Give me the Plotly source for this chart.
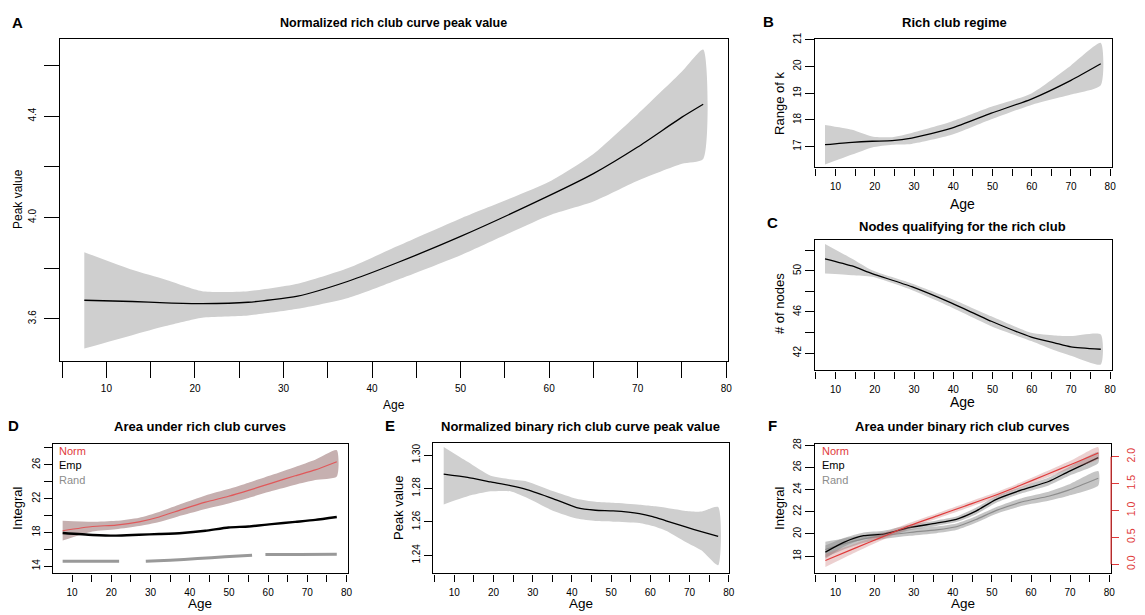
import plotly.graph_objects as go

W, H = 1145, 615
FONT = "Liberation Sans, Arial, Helvetica, sans-serif"

# ---- A: normalized rich club curve peak value ----
a_age = [7.5, 12.9, 16.7, 20.8, 26, 31.6, 37.3, 42.9, 50, 60, 65, 70, 75, 77.4]
a_mean = [3.673, 3.668, 3.663, 3.660, 3.665, 3.689, 3.748, 3.822, 3.925, 4.086, 4.173, 4.278, 4.396, 4.447]
a_up = [3.863, 3.793, 3.754, 3.709, 3.709, 3.738, 3.800, 3.887, 3.996, 4.141, 4.251, 4.408, 4.576, 4.663]
a_lo = [3.482, 3.535, 3.571, 3.604, 3.613, 3.639, 3.682, 3.754, 3.851, 4.008, 4.063, 4.145, 4.212, 4.231]

# ---- B: rich club regime ----
b_age = [7.3, 14.2, 19.3, 24.4, 29.4, 39.6, 49.7, 59.9, 70, 77.6]
b_mean = [17.07, 17.16, 17.20, 17.22, 17.32, 17.69, 18.25, 18.78, 19.48, 20.10]
b_up = [17.81, 17.63, 17.38, 17.35, 17.51, 17.94, 18.49, 18.99, 20.04, 20.88]
b_lo = [16.33, 16.70, 16.97, 17.07, 17.10, 17.44, 18.02, 18.56, 18.95, 19.30]

# ---- C: nodes qualifying for the rich club ----
c_age = [7.3, 14.2, 19.3, 29.4, 39.6, 49.7, 59.9, 65.8, 70, 77.6]
c_mean = [51.18, 50.48, 49.74, 48.46, 46.86, 45.10, 43.56, 43.00, 42.60, 42.37]
c_up = [52.63, 51.18, 50.06, 48.78, 47.27, 45.58, 43.97, 43.71, 43.65, 43.81]
c_lo = [49.74, 49.58, 49.42, 48.13, 46.44, 44.62, 43.17, 42.27, 41.73, 40.89]

# ---- D: area under rich club curves ----
d_age = [7.6, 15.2, 21.2, 27.1, 32.2, 38.1, 44, 49.9, 55, 60.9, 66.9, 72, 77.5]
d_norm = [18.20, 18.70, 18.87, 19.25, 19.83, 20.73, 21.58, 22.28, 22.98, 23.84, 24.70, 25.40, 26.37]
d_norm_up = [19.37, 19.25, 19.37, 19.75, 20.43, 21.43, 22.38, 23.13, 23.88, 24.79, 25.75, 26.60, 27.73]
d_norm_lo = [17.03, 18.10, 18.37, 18.75, 19.23, 20.03, 20.78, 21.43, 22.08, 22.89, 23.65, 24.20, 24.62]
d_emp = [17.93, 17.70, 17.62, 17.73, 17.81, 17.93, 18.20, 18.59, 18.70, 18.98, 19.25, 19.48, 19.83]
d_rand_age = [7.6, 15, 22, 25, 28.8, 35, 42, 49, 55.9, 57.5, 59.3, 68, 77.5]
d_rand = [14.58, 14.58, 14.58, None, 14.60, 14.72, 14.90, 15.12, 15.30, None, 15.38, 15.40, 15.42]

# ---- E: normalized binary rich club curve peak value ----
e_age = [7.3, 13.4, 19.3, 24.3, 28.5, 35.3, 41.2, 46, 50.5, 57.2, 60.6, 64, 69, 73, 77.3]
e_mean = [1.2886, 1.2866, 1.2839, 1.2817, 1.2793, 1.2738, 1.2686, 1.2670, 1.2666, 1.2650,
          1.2632, 1.2607, 1.2570, 1.2542, 1.2514]
e_up = [1.3049, 1.2960, 1.2876, 1.2855, 1.2842, 1.2783, 1.2738, 1.2720, 1.2714, 1.2703,
        1.2695, 1.2685, 1.2666, 1.2662, 1.2689]
e_lo = [1.2705, 1.2754, 1.2783, 1.2783, 1.2744, 1.2665, 1.2620, 1.2605, 1.2601, 1.2593,
        1.2575, 1.2547, 1.2480, 1.2430, 1.2341]

# ---- F: area under binary rich club curves ----
f_age = [7.4, 12.1, 17.2, 22.3, 29, 35.8, 40.9, 45.9, 51, 57.8, 64.5, 69.6, 77.2]
f_emp = [18.36, 19.24, 19.84, 19.99, 20.58, 20.97, 21.32, 22.06, 23.10, 23.99, 24.73, 25.62, 26.89]
f_emp_half = [0.6, 0.4, 0.3, 0.3, 0.25, 0.25, 0.25, 0.3, 0.3, 0.3, 0.35, 0.4, 0.5]
f_rand = [18.60, 19.10, 19.55, 19.85, 20.13, 20.37, 20.65, 21.30, 22.10, 22.90, 23.40, 23.95, 25.02]
f_rand_half = [0.7, 0.5, 0.35, 0.3, 0.3, 0.3, 0.3, 0.3, 0.3, 0.35, 0.4, 0.5, 0.65]
f_norm_age = [7.4, 15, 22, 29, 36, 43, 50, 57, 64, 71, 77.2]
f_norm = [0.07, 0.30, 0.51, 0.72, 0.90, 1.08, 1.26, 1.46, 1.67, 1.88, 2.07]
f_norm_half = [0.12, 0.08, 0.06, 0.05, 0.05, 0.05, 0.05, 0.05, 0.06, 0.08, 0.11]

age_ticks = list(range(5, 85, 5))
age_text = [str(t) if t % 10 == 0 else "" for t in age_ticks]

fig = go.Figure()


def band(x, up, lo, color, ax, yax=None):
    fig.add_trace(go.Scatter(
        x=x + x[::-1], y=up + lo[::-1], fill="toself", fillcolor=color,
        mode="lines", line=dict(width=0, shape="spline", smoothing=0.6),
        hoverinfo="skip", showlegend=False, xaxis="x" + ax, yaxis="y" + (yax or ax)))


def curve(x, y, color, width, ax, yax=None):
    fig.add_trace(go.Scatter(
        x=x, y=y, mode="lines", line=dict(color=color, width=width, shape="spline", smoothing=0.6),
        hoverinfo="skip", showlegend=False, xaxis="x" + ax, yaxis="y" + (yax or ax)))


grey = "#cfcfcf"
band(a_age, a_up, a_lo, grey, "")
curve(a_age, a_mean, "black", 1.3, "")
band(b_age, b_up, b_lo, grey, "2")
curve(b_age, b_mean, "black", 1.3, "2")
band(c_age, c_up, c_lo, grey, "3")
curve(c_age, c_mean, "black", 1.3, "3")

band(d_age, d_norm_up, d_norm_lo, "#c6b0b0", "4")
curve(d_age, d_norm, "#e0585a", 1.2, "4")
curve(d_age, d_emp, "black", 2.4, "4")
curve(d_rand_age, d_rand, "#999999", 3, "4")

band(e_age, e_up, e_lo, grey, "5")
curve(e_age, e_mean, "black", 1.3, "5")

band(f_age, [m + h for m, h in zip(f_rand, f_rand_half)],
     [m - h for m, h in zip(f_rand, f_rand_half)], "rgba(150,150,150,0.55)", "6")
band(f_age, [m + h for m, h in zip(f_emp, f_emp_half)],
     [m - h for m, h in zip(f_emp, f_emp_half)], "rgba(140,140,140,0.5)", "6")
curve(f_age, f_rand, "#8c8c8c", 1.2, "6")
curve(f_age, f_emp, "black", 1.3, "6")
band(f_norm_age, [m + h for m, h in zip(f_norm, f_norm_half)],
     [m - h for m, h in zip(f_norm, f_norm_half)], "rgba(200,120,120,0.35)", "6", "7")
curve(f_norm_age, f_norm, "#e03a3a", 1.2, "6", "7")

# panel boxes in pixels: (left, top, right, bottom)
panels = {
    "": dict(box=(60, 33, 732, 358), xr=[4.72, 80.22], yr=[3.435, 4.706],
             yt=[3.6, 3.8, 4.0, 4.2, 4.4, 4.6], ytx=["3.6", "", "4.0", "", "4.4", ""],
             xl=16, yl=15, tf=10, ys=4),
    "2": dict(box=(819, 33, 1118, 163), xr=[4.67, 80.5], yr=[16.22, 21.04],
              yt=[17, 18, 19, 20, 21], ytx=["17", "18", "19", "20", "21"], xl=7, yl=9, tf=10, ys=0),
    "3": dict(box=(819, 236, 1118, 368), xr=[4.67, 80.5], yr=[40.31, 53.04],
              yt=[42, 44, 46, 48, 50, 52], ytx=["42", "", "46", "", "50", ""], xl=7, yl=9, tf=10, ys=0),
    "4": dict(box=(53, 442, 350, 573), xr=[5.07, 80.4], yr=[13.15, 28.5],
              yt=list(range(14, 30, 2)), ytx=["14", "", "18", "", "22", "", "26", ""],
              xl=7, yl=8, tf=10, ys=0),
    "5": dict(box=(435, 441, 733, 573), xr=[4.5, 80.1], yr=[1.2292, 1.3074],
              yt=[1.24, 1.26, 1.28, 1.30], ytx=["1.24", "1.26", "1.28", "1.30"], xl=7, yl=8, tf=10, ys=0),
    "6": dict(box=(819, 442, 1117, 573), xr=[4.67, 80.5], yr=[16.44, 28.14],
              yt=[18, 20, 22, 24, 26, 28], ytx=["18", "20", "22", "24", "26", "28"], xl=7, yl=9, tf=10, ys=0),
}

layout = dict(
    width=W, height=H, margin=dict(l=0, r=0, t=0, b=0),
    paper_bgcolor="white", plot_bgcolor="white", showlegend=False,
    font=dict(family=FONT, color="black"),
)
for k, p in panels.items():
    l, t, r, b = p["box"]
    common = dict(showline=True, mirror=True, linecolor="black", linewidth=1.3,
                  ticks="outside", tickcolor="black", tickwidth=1.3,
                  showgrid=False, zeroline=False, fixedrange=True,
                  tickfont=dict(family=FONT, size=p["tf"], color="black"))
    layout["xaxis" + k] = dict(common, domain=[l / W, r / W], range=p["xr"],
                               anchor="y" + k, tickmode="array", tickvals=age_ticks,
                               ticktext=age_text, ticklen=p["xl"], ticklabelstandoff=2)
    layout["yaxis" + k] = dict(common, domain=[1 - b / H, 1 - t / H], range=p["yr"],
                               anchor="x" + k, tickmode="array", tickvals=p["yt"],
                               ticktext=p["ytx"], ticklen=p["yl"], tickangle=-90,
                               ticklabelstandoff=p["ys"])

layout["yaxis7"] = dict(overlaying="y6", side="right", anchor="x6", range=[-0.171, 2.244],
                        showline=False, showgrid=False, zeroline=False, ticks="outside",
                        ticklen=7, tickwidth=1.3, tickcolor="#e03a3a", tickmode="array",
                        tickvals=[0, 0.5, 1.0, 1.5, 2.0],
                        ticktext=["0.0", "0.5", "1.0", "1.5", "2.0"], tickangle=-90,
                        tickfont=dict(family=FONT, size=10.5, color="#e03a3a"),
                        ticklabelstandoff=3, fixedrange=True)
fig.update_layout(**layout)

fig.add_shape(type="line", xref="x6 domain", yref="y7", x0=1, x1=1, y0=0, y1=2.0,
              line=dict(color="#e03a3a", width=1.3))


def note(text, x, y, size, bold=False, color="black", angle=0, xanchor="center"):
    fig.add_annotation(text="<b>%s</b>" % text if bold else text, x=x / W, y=1 - y / H,
                       xref="paper", yref="paper", showarrow=False, textangle=angle,
                       xanchor=xanchor, yanchor="middle",
                       font=dict(family=FONT, size=size, color=color))


# panel letters
for letter, x, y in [("A", 18, 17), ("B", 773, 16), ("C", 777, 219),
                     ("D", 14, 424), ("E", 392, 424), ("F", 777, 424)]:
    note(letter, x, y, 15, bold=True)

# titles
note("Normalized rich club curve peak value", 396, 17, 12.5, bold=True)
note("Rich club regime", 960, 17, 13, bold=True)
note("Nodes qualifying for the rich club", 968, 223, 13, bold=True)
note("Area under rich club curves", 201, 425, 13, bold=True)
note("Normalized binary rich club curve peak value", 584, 425, 13, bold=True)
note("Area under binary rich club curves", 968, 425, 13, bold=True)

# axis titles
note("Age", 396, 403, 12)
note("Age", 968, 200, 14)
note("Age", 968, 400, 14)
note("Age", 201, 603, 13.5)
note("Age", 584, 603, 13.5)
note("Age", 968, 603, 13.5)
note("Peak value", 18, 195, 12, angle=-90)
note("Range of k", 783, 98, 13, angle=-90)
note("# of nodes", 783, 300, 13, angle=-90)
note("Integral", 17, 507, 13, angle=-90)
note("Peak value", 400, 507, 13, angle=-90)
note("Integral", 783, 507, 13, angle=-90)

# in-panel legends
for txt, y, col in [("Norm", 449, "#e03a3a"), ("Emp", 464, "black"), ("Rand", 479, "#8c8c8c")]:
    note(txt, 57, y, 11, color=col, xanchor="left")
    note(txt, 824, y, 11, color=col, xanchor="left")

fig.write_html("out.html", config={"displayModeBar": False},
               post_script="document.body.style.margin='0px';"
                           "document.body.style.overflow='hidden';")
